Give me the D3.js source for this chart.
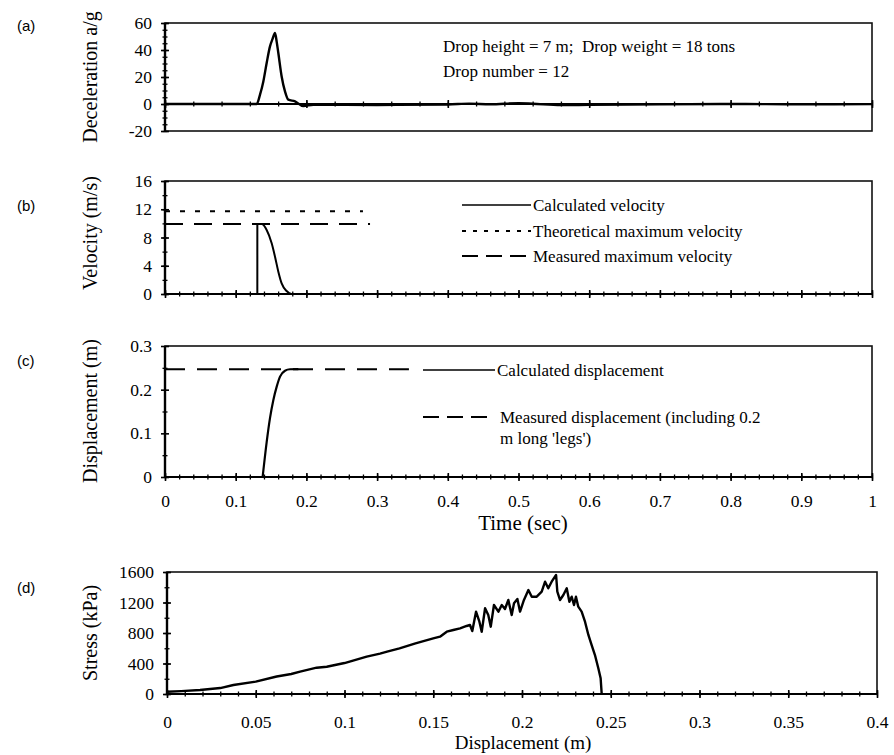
<!DOCTYPE html>
<html>
<head>
<meta charset="utf-8">
<script src="https://cdn.jsdelivr.net/npm/d3@7"></script>
<style>
  html, body { margin: 0; padding: 0; background: #fff; }
  svg { display: block; }
</style>
</head>
<body>
<div id="chart"></div>
<script>
const width = 894, height = 755;
const serif = "Liberation Serif";
const sans = "Liberation Sans";

// (a) deceleration
const accelTime = [0, 0.05, 0.1, 0.1297, 0.1344, 0.1391, 0.1438, 0.1485, 0.152, 0.1556, 0.158, 0.1603, 0.165, 0.1697, 0.1744, 0.1839, 0.1956, 0.2098, 0.3, 0.4, 0.43, 0.46, 0.5, 0.52, 0.56, 0.6, 0.7, 0.8, 0.9, 1];
const accelG    = [0, 0, 0, 0, 6.9, 16.7, 30.4, 42.7, 48, 52.6, 46, 37.8, 20.4, 9.3, 3.2, 2, -1.6, -0.5, -0.7, -0.4, 0.3, -0.2, 0.6, 0.2, -0.8, -0.6, -0.3, 0, -0.2, -0.1];

// (b) velocity
const velTime  = [0, 0.1306, 0.13061, 0.1367, 0.1438, 0.1509, 0.1556, 0.1603, 0.165, 0.172, 0.179, 1];
const velValue = [0, 0, 9.9, 9.9, 9.06, 7.18, 5.28, 3.16, 1.5, 0.42, 0, 0];
const theoMaxVel = 11.72, theoMaxEnd = 0.28;
const measMaxVel = 9.9, measMaxEnd = 0.29;

// (c) displacement
const dispTime  = [0.1381, 0.1438, 0.1485, 0.1532, 0.158, 0.1627, 0.1697, 0.1768, 0.1886];
const dispValue = [0, 0.08, 0.135, 0.176, 0.207, 0.23, 0.2434, 0.2467, 0.247];
const measDisp = 0.247, measDispEnd = 0.345;

// (d) stress vs displacement
const stressDisp = [0, 0.008, 0.0186, 0.03, 0.0374, 0.05, 0.0618, 0.07, 0.075, 0.0843, 0.09, 0.1, 0.1125, 0.12, 0.124, 0.131, 0.14, 0.15, 0.1538, 0.1576, 0.1613, 0.1651, 0.1688, 0.1707, 0.172, 0.1741, 0.176, 0.1773, 0.1792, 0.181, 0.1824, 0.1842, 0.1867, 0.1886, 0.1904, 0.1923, 0.1942, 0.1955, 0.1974, 0.1989, 0.2011, 0.2036, 0.2055, 0.2083, 0.2111, 0.213, 0.2148, 0.2167, 0.2192, 0.2199, 0.2214, 0.2233, 0.2252, 0.2267, 0.228, 0.2293, 0.2304, 0.2317, 0.2336, 0.2355, 0.2374, 0.2392, 0.2411, 0.243, 0.2443, 0.2449];
const stressKPa  = [30, 38, 52, 78, 118, 162, 230, 262, 293, 345, 358, 406, 490, 530, 555, 599, 665, 730, 752, 817, 839, 861, 892, 905, 826, 1080, 948, 817, 1124, 1036, 883, 1167, 1080, 1167, 1115, 1233, 1036, 1189, 1246, 1080, 1233, 1364, 1276, 1276, 1342, 1473, 1386, 1473, 1561, 1342, 1233, 1298, 1386, 1210, 1276, 1167, 1276, 1145, 1080, 948, 774, 643, 511, 337, 206, 0];

const timeTicks = d3.range(0, 11).map(i => i / 10);
const dispTicks = d3.range(0, 9).map(i => i * 5 / 100);

const svg = d3.select("#chart").append("svg")
    .attr("width", width)
    .attr("height", height)
    .style("background", "#fff");

const panels = [
  { label: "(a)", ly: 31, x: [0, 1], xr: [165, 872], y: [-20, 60], yr: [131, 23],
    yMajor: [-20, 0, 20, 40, 60], yMinor: d3.range(-20, 61, 5),
    xMajor: d3.range(0, 6).map(i => i / 5), xMinor: d3.range(0, 26).map(i => i / 25),
    title: "Deceleration a/g", ty: 77, xLabels: false },
  { label: "(b)", ly: 211, x: [0, 1], xr: [165, 872], y: [0, 16], yr: [294, 181],
    yMajor: [0, 4, 8, 12, 16], yMinor: d3.range(0, 17, 2),
    xMajor: timeTicks, xMinor: d3.range(0, 51).map(i => i / 50),
    title: "Velocity (m/s)", ty: 233, xLabels: false },
  { label: "(c)", ly: 366, x: [0, 1], xr: [165, 872], y: [0, 0.3], yr: [477, 346],
    yMajor: [0, 0.1, 0.2, 0.3], yMinor: [0.05, 0.15, 0.25],
    xMajor: timeTicks, xMinor: d3.range(0, 51).map(i => i / 50),
    title: "Displacement (m)", ty: 411, xLabels: true, pad: 14 },
  { label: "(d)", ly: 593, x: [0, 0.4], xr: [167, 877], y: [0, 1600], yr: [694, 572],
    yMajor: [0, 400, 800, 1200, 1600], yMinor: d3.range(0, 1601, 200),
    xMajor: dispTicks, xMinor: d3.range(0, 41).map(i => i / 100),
    title: "Stress (kPa)", ty: 633, xLabels: true, pad: 18 }
];

panels.forEach(p => {
  p.sx = d3.scaleLinear().domain(p.x).range(p.xr);
  p.sy = d3.scaleLinear().domain(p.y).range(p.yr);
  const g = svg.append("g");
  p.g = g;

  // frame
  g.append("rect")
      .attr("x", p.xr[0]).attr("y", p.yr[1])
      .attr("width", p.xr[1] - p.xr[0]).attr("height", p.yr[0] - p.yr[1])
      .attr("fill", "none").attr("stroke", "#111").attr("stroke-width", 1.6);

  // axis lines
  g.append("line")
      .attr("x1", p.xr[0]).attr("x2", p.xr[1])
      .attr("y1", p.sy(0)).attr("y2", p.sy(0))
      .attr("stroke", "#000").attr("stroke-width", 2);
  g.append("line")
      .attr("x1", p.xr[0]).attr("x2", p.xr[0])
      .attr("y1", p.yr[0]).attr("y2", p.yr[1])
      .attr("stroke", "#000").attr("stroke-width", 2.4);

  // y axis: labels + crossing ticks
  const ya = g.append("g").attr("transform", `translate(${p.xr[0]},0)`)
      .call(d3.axisLeft(p.sy).tickValues(p.yMajor).tickSize(4).tickPadding(9).tickFormat(d => String(d)));
  ya.select(".domain").remove();
  ya.selectAll(".tick line").attr("x1", 4).attr("stroke-width", 1.6);
  ya.selectAll(".tick text").attr("font-family", serif).attr("font-size", 17.5).attr("fill", "#000");

  const ym = g.append("g").attr("transform", `translate(${p.xr[0]},0)`)
      .call(d3.axisLeft(p.sy).tickValues(p.yMinor).tickSize(2.5).tickFormat(""));
  ym.select(".domain").remove();
  ym.selectAll(".tick line").attr("x1", 2.5).attr("stroke-width", 1.3);

  // x axis along the zero line
  const xa = g.append("g").attr("transform", `translate(0,${p.sy(0)})`)
      .call(d3.axisBottom(p.sx).tickValues(p.xMajor).tickSize(4).tickPadding(p.pad || 8)
        .tickFormat(p.xLabels ? (d => String(d)) : ""));
  xa.select(".domain").remove();
  xa.selectAll(".tick line").attr("y1", -4).attr("stroke-width", 1.6);
  xa.selectAll(".tick text").attr("font-family", serif).attr("font-size", 17.5).attr("fill", "#000");

  const xm = g.append("g").attr("transform", `translate(0,${p.sy(0)})`)
      .call(d3.axisBottom(p.sx).tickValues(p.xMinor).tickSize(2.5).tickFormat(""));
  xm.select(".domain").remove();
  xm.selectAll(".tick line").attr("y1", -2.5).attr("stroke-width", 1.3);

  // axis title
  g.append("text")
      .attr("transform", `translate(97,${p.ty}) rotate(-90)`)
      .attr("text-anchor", "middle")
      .attr("font-family", serif).attr("font-size", 20)
      .text(p.title);

  // panel label
  g.append("text")
      .attr("x", 17).attr("y", p.ly)
      .attr("font-family", sans).attr("font-size", 15)
      .text(p.label);
});

const [pa, pb, pc, pd] = panels;

function trace(p, xs, ys, curve, w) {
  const line = d3.line()
      .x(i => p.sx(xs[i]))
      .y(i => p.sy(ys[i]))
      .curve(curve);
  p.g.append("path")
      .attr("d", line(d3.range(xs.length)))
      .attr("fill", "none").attr("stroke", "#000")
      .attr("stroke-width", w).attr("stroke-linejoin", "round");
}

function hline(p, v, x0, x1, dash, w) {
  p.g.append("line")
      .attr("x1", p.sx(x0)).attr("x2", p.sx(x1))
      .attr("y1", p.sy(v)).attr("y2", p.sy(v))
      .attr("stroke", "#000").attr("stroke-width", w)
      .attr("stroke-dasharray", dash);
}

// (a)
trace(pa, accelTime, accelG, d3.curveMonotoneX, 2.4);
svg.append("g").attr("font-family", serif).attr("font-size", 17)
  .selectAll("text").data(["Drop height = 7 m;  Drop weight = 18 tons", "Drop number = 12"])
  .join("text")
    .attr("x", 443).attr("y", (d, i) => 52 + i * 25)
    .style("white-space", "pre")
    .text(d => d);

// (b)
hline(pb, theoMaxVel, 0, theoMaxEnd, "5,10", 2);
hline(pb, measMaxVel, 0, measMaxEnd, "18,11", 2);
trace(pb, velTime, velValue, d3.curveMonotoneX, 2);

const legB = [
  { y: 205, dash: null, text: "Calculated velocity" },
  { y: 231, dash: "4,7", text: "Theoretical maximum velocity" },
  { y: 256, dash: "16,8", text: "Measured maximum velocity" }
];
legB.forEach(d => {
  svg.append("line").attr("x1", 462).attr("x2", 531).attr("y1", d.y).attr("y2", d.y)
      .attr("stroke", "#000").attr("stroke-width", d.dash ? 2 : 1.3).attr("stroke-dasharray", d.dash);
  svg.append("text").attr("x", 533).attr("y", d.y + 6)
      .attr("font-family", serif).attr("font-size", 17).text(d.text);
});

// (c)
hline(pc, measDisp, 0, measDispEnd, "20,12", 2);
trace(pc, dispTime, dispValue, d3.curveMonotoneX, 2.2);

svg.append("line").attr("x1", 423).attr("x2", 495).attr("y1", 370).attr("y2", 370)
    .attr("stroke", "#000").attr("stroke-width", 1.3);
svg.append("text").attr("x", 497).attr("y", 376)
    .attr("font-family", serif).attr("font-size", 17).text("Calculated displacement");
svg.append("line").attr("x1", 423).attr("x2", 495).attr("y1", 417).attr("y2", 417)
    .attr("stroke", "#000").attr("stroke-width", 2).attr("stroke-dasharray", "16,8");
svg.append("text").attr("x", 500).attr("y", 423)
    .attr("font-family", serif).attr("font-size", 17).text("Measured displacement (including 0.2");
svg.append("text").attr("x", 500).attr("y", 444)
    .attr("font-family", serif).attr("font-size", 17).text("m long 'legs')");

svg.append("text").attr("x", 523).attr("y", 530).attr("text-anchor", "middle")
    .attr("font-family", serif).attr("font-size", 21).text("Time (sec)");

// (d)
trace(pd, stressDisp, stressKPa, d3.curveLinear, 2.4);
svg.append("text").attr("x", 523).attr("y", 749).attr("text-anchor", "middle")
    .attr("font-family", serif).attr("font-size", 19).text("Displacement (m)");
</script>
</body>
</html>
